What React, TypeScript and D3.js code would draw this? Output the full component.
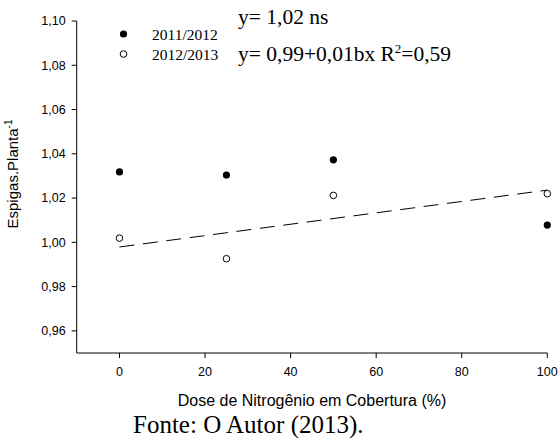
import React from "react";
import * as d3 from "d3";

const doses = [0, 25, 50, 100];
const season1 = [1.0318, 1.0304, 1.0373, 1.0078];
const season2 = [1.0019, 0.9926, 1.0212, 1.022];
const fitX = [0, 100];
const fitY = [0.9979, 1.0236];
const xTicks = [0, 20, 40, 60, 80, 100];
const yTicks = [0.96, 0.98, 1.0, 1.02, 1.04, 1.06, 1.08, 1.1];
const legendLabels = ["2011/2012", "2012/2013"];

const W = 560, H = 438;

export default function App() {
  const x = d3.scaleLinear().domain([-10, 100]).range([76.7, 547.3]);
  const y = d3.scaleLinear().domain([0.95, 1.1]).range([353, 21]);
  const fmt = (v: number) => v.toFixed(2).replace(".", ",");
  const line = d3.line<number>().x((_, i) => x(fitX[i])).y((d) => y(d));
  const sans = "Liberation Sans, Arial, sans-serif";
  const serif = "Liberation Serif, Times New Roman, serif";
  return (
    <svg width={W} height={H} style={{ position: "absolute", left: 0, top: 0, background: "#fff" }}>
      <rect width={W} height={H} fill="#fff" />
      {/* axes */}
      <line x1={x(-10)} x2={x(-10)} y1={y(0.95)} y2={y(1.1)} stroke="#000" strokeWidth={1} />
      <line x1={x(-10)} x2={x(100)} y1={y(0.95)} y2={y(0.95)} stroke="#000" strokeWidth={1} />
      {yTicks.map((t) => (
        <g key={t}>
          <line x1={x(-10) - 5} x2={x(-10)} y1={y(t)} y2={y(t)} stroke="#000" />
          <text x={x(-10) - 11} y={y(t)} dy="0.35em" textAnchor="end" fontFamily={sans} fontSize={12.5}>
            {fmt(t)}
          </text>
        </g>
      ))}
      {xTicks.map((t) => (
        <g key={t}>
          <line x1={x(t)} x2={x(t)} y1={y(0.95)} y2={y(0.95) + 5} stroke="#000" />
          <text x={x(t)} y={371.5} dy="0.35em" textAnchor="middle" fontFamily={sans} fontSize={12.5}>
            {t}
          </text>
        </g>
      ))}
      {/* titles */}
      <text x={312} y={406} textAnchor="middle" fontFamily={sans} fontSize={16}>
        Dose de Nitrogênio em Cobertura (%)
      </text>
      <text transform="translate(18,174) rotate(-90)" textAnchor="middle" fontFamily={sans} fontSize={15}>
        Espigas.Planta
        <tspan dy={-6} fontSize={10}>-1</tspan>
      </text>
      {/* fit line */}
      <path d={line(fitY) || ""} fill="none" stroke="#000" strokeWidth={1} strokeDasharray="15,8.6" />
      {/* points */}
      {doses.map((d, i) => (
        <circle key={"a" + i} cx={x(d)} cy={y(season1[i])} r={3.6} fill="#000" />
      ))}
      {doses.map((d, i) => (
        <circle key={"b" + i} cx={x(d)} cy={y(season2[i])} r={3.3} fill="#fff" stroke="#000" strokeWidth={1} />
      ))}
      {/* legend */}
      <circle cx={123.5} cy={34} r={3.6} fill="#000" />
      <circle cx={123.5} cy={54} r={3.3} fill="#fff" stroke="#000" />
      <text x={152} y={39.5} fontFamily={serif} fontSize={15.5}>{legendLabels[0]}</text>
      <text x={152} y={59.5} fontFamily={serif} fontSize={15.5}>{legendLabels[1]}</text>
      {/* equations */}
      <text x={238} y={24} fontFamily={serif} fontSize={21.5}>y= 1,02 ns</text>
      <text x={238} y={61} fontFamily={serif} fontSize={21.5}>
        y= 0,99+0,01bx R<tspan dy={-8} fontSize={13}>2</tspan><tspan dy={8}>=0,59</tspan>
      </text>
      {/* source */}
      <text x={133} y={433} fontFamily={serif} fontSize={25}>Fonte: O Autor (2013).</text>
    </svg>
  );
}
